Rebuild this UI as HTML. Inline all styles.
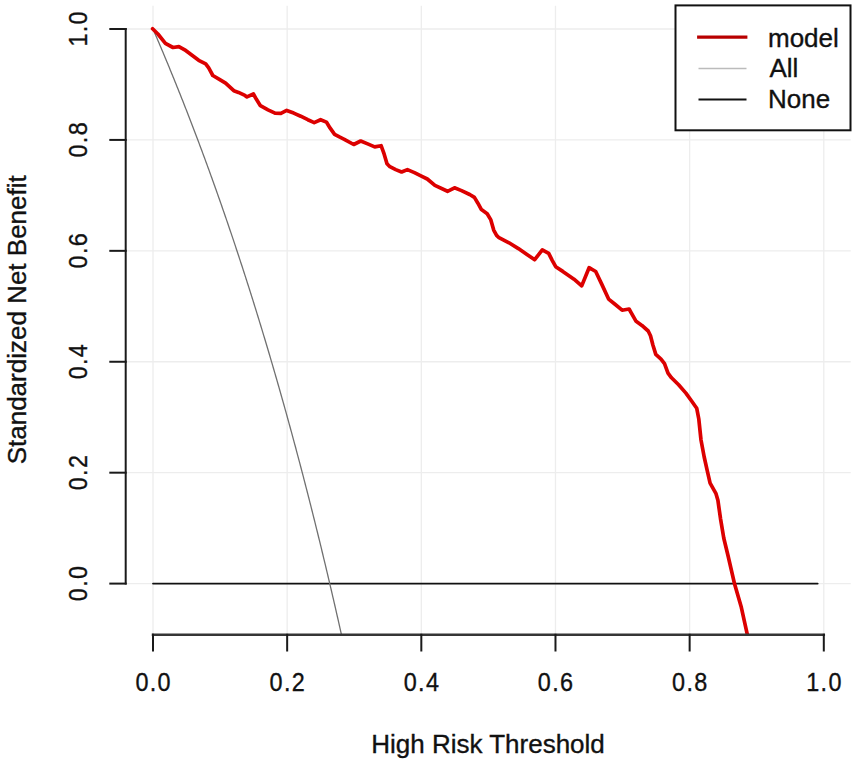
<!DOCTYPE html>
<html><head><meta charset="utf-8"><style>html,body{margin:0;padding:0;background:#fff;width:856px;height:763px;overflow:hidden}svg{display:block}text{font-family:"Liberation Sans",sans-serif}</style></head>
<body><svg width="856" height="763" viewBox="0 0 856 763"><g stroke="#ededed" stroke-width="1.3"><line x1="153.00" y1="5.7" x2="153.00" y2="634.5"/><line x1="125.6" y1="583.60" x2="850.7" y2="583.60"/><line x1="287.16" y1="5.7" x2="287.16" y2="634.5"/><line x1="125.6" y1="472.68" x2="850.7" y2="472.68"/><line x1="421.32" y1="5.7" x2="421.32" y2="634.5"/><line x1="125.6" y1="361.76" x2="850.7" y2="361.76"/><line x1="555.48" y1="5.7" x2="555.48" y2="634.5"/><line x1="125.6" y1="250.84" x2="850.7" y2="250.84"/><line x1="689.64" y1="5.7" x2="689.64" y2="634.5"/><line x1="125.6" y1="139.92" x2="850.7" y2="139.92"/><line x1="823.80" y1="5.7" x2="823.80" y2="634.5"/><line x1="125.6" y1="29.00" x2="850.7" y2="29.00"/></g>
<line x1="153.00" y1="583.60" x2="817.69" y2="583.60" stroke="#111" stroke-width="1.8" stroke-linecap="round"/>
<defs><clipPath id="pr"><rect x="125.6" y="5.7" width="725.1" height="628.9"/></clipPath></defs>
<polyline clip-path="url(#pr)" points="153.00,29.00 153.67,30.55 154.34,32.11 155.01,33.66 155.68,35.23 156.35,36.79 157.02,38.36 157.70,39.93 158.37,41.50 159.04,43.08 159.71,44.66 160.38,46.24 161.05,47.83 161.72,49.42 162.39,51.01 163.06,52.61 163.73,54.21 164.40,55.81 165.07,57.41 165.75,59.02 166.42,60.64 167.09,62.25 167.76,63.87 168.43,65.49 169.10,67.12 169.77,68.75 170.44,70.38 171.11,72.02 171.78,73.65 172.45,75.30 173.12,76.94 173.79,78.59 174.47,80.24 175.14,81.90 175.81,83.56 176.48,85.22 177.15,86.89 177.82,88.56 178.49,90.23 179.16,91.91 179.83,93.59 180.50,95.27 181.17,96.96 181.84,98.65 182.52,100.35 183.19,102.04 183.86,103.74 184.53,105.45 185.20,107.16 185.87,108.87 186.54,110.59 187.21,112.31 187.88,114.03 188.55,115.76 189.22,117.49 189.89,119.22 190.56,120.96 191.24,122.70 191.91,124.44 192.58,126.19 193.25,127.95 193.92,129.70 194.59,131.46 195.26,133.23 195.93,134.99 196.60,136.76 197.27,138.54 197.94,140.32 198.61,142.10 199.29,143.89 199.96,145.68 200.63,147.47 201.30,149.27 201.97,151.07 202.64,152.88 203.31,154.69 203.98,156.50 204.65,158.32 205.32,160.14 205.99,161.97 206.66,163.80 207.33,165.63 208.01,167.47 208.68,169.31 209.35,171.15 210.02,173.00 210.69,174.86 211.36,176.71 212.03,178.58 212.70,180.44 213.37,182.31 214.04,184.18 214.71,186.06 215.38,187.95 216.06,189.83 216.73,191.72 217.40,193.62 218.07,195.52 218.74,197.42 219.41,199.33 220.08,201.24 220.75,203.15 221.42,205.07 222.09,207.00 222.76,208.93 223.43,210.86 224.10,212.80 224.78,214.74 225.45,216.69 226.12,218.64 226.79,220.59 227.46,222.55 228.13,224.51 228.80,226.48 229.47,228.45 230.14,230.43 230.81,232.41 231.48,234.40 232.15,236.39 232.83,238.38 233.50,240.38 234.17,242.39 234.84,244.40 235.51,246.41 236.18,248.43 236.85,250.45 237.52,252.48 238.19,254.51 238.86,256.54 239.53,258.59 240.20,260.63 240.87,262.68 241.55,264.74 242.22,266.80 242.89,268.86 243.56,270.93 244.23,273.00 244.90,275.08 245.57,277.17 246.24,279.26 246.91,281.35 247.58,283.45 248.25,285.55 248.92,287.66 249.60,289.77 250.27,291.89 250.94,294.01 251.61,296.14 252.28,298.27 252.95,300.41 253.62,302.55 254.29,304.70 254.96,306.86 255.63,309.01 256.30,311.18 256.97,313.35 257.64,315.52 258.32,317.70 258.99,319.88 259.66,322.07 260.33,324.27 261.00,326.47 261.67,328.67 262.34,330.88 263.01,333.10 263.68,335.32 264.35,337.54 265.02,339.77 265.69,342.01 266.37,344.25 267.04,346.50 267.71,348.75 268.38,351.01 269.05,353.27 269.72,355.54 270.39,357.82 271.06,360.10 271.73,362.38 272.40,364.68 273.07,366.97 273.74,369.28 274.41,371.58 275.09,373.90 275.76,376.22 276.43,378.54 277.10,380.87 277.77,383.21 278.44,385.55 279.11,387.90 279.78,390.25 280.45,392.61 281.12,394.98 281.79,397.35 282.46,399.73 283.14,402.11 283.81,404.50 284.48,406.90 285.15,409.30 285.82,411.70 286.49,414.12 287.16,416.54 287.83,418.96 288.50,421.39 289.17,423.83 289.84,426.27 290.51,428.72 291.18,431.18 291.86,433.64 292.53,436.11 293.20,438.58 293.87,441.06 294.54,443.55 295.21,446.04 295.88,448.54 296.55,451.05 297.22,453.56 297.89,456.08 298.56,458.61 299.23,461.14 299.91,463.68 300.58,466.22 301.25,468.77 301.92,471.33 302.59,473.89 303.26,476.46 303.93,479.04 304.60,481.63 305.27,484.22 305.94,486.81 306.61,489.42 307.28,492.03 307.95,494.65 308.63,497.27 309.30,499.90 309.97,502.54 310.64,505.19 311.31,507.84 311.98,510.50 312.65,513.17 313.32,515.84 313.99,518.52 314.66,521.21 315.33,523.90 316.00,526.60 316.68,529.31 317.35,532.03 318.02,534.75 318.69,537.48 319.36,540.22 320.03,542.96 320.70,545.71 321.37,548.47 322.04,551.24 322.71,554.02 323.38,556.80 324.05,559.59 324.72,562.38 325.40,565.19 326.07,568.00 326.74,570.82 327.41,573.65 328.08,576.48 328.75,579.32 329.42,582.17 330.09,585.03 330.76,587.90 331.43,590.77 332.10,593.65 332.77,596.54 333.45,599.44 334.12,602.34 334.79,605.25 335.46,608.17 336.13,611.10 336.80,614.04 337.47,616.99 338.14,619.94 338.81,622.90 339.48,625.87 340.15,628.85 340.82,631.83 341.49,634.83 342.17,637.83 342.84,640.84" fill="none" stroke="#707070" stroke-width="1.3"/>
<polyline clip-path="url(#pr)" points="152.60,28.80 157.90,34.00 165.40,43.40 173.00,47.50 178.90,46.60 184.70,49.80 191.70,55.00 198.70,60.30 205.70,63.80 208.70,67.90 212.80,75.50 219.80,79.60 225.60,83.10 233.80,90.70 238.50,92.40 244.90,95.40 247.00,96.90 253.40,94.00 256.40,99.30 260.40,105.70 268.00,109.80 275.00,113.10 280.90,113.30 286.70,110.40 293.70,113.10 300.70,116.20 307.80,119.70 314.20,122.60 320.60,119.70 326.40,122.10 330.00,127.90 334.60,134.30 339.90,137.20 344.30,139.30 353.70,144.50 360.70,141.00 367.70,143.90 374.70,146.90 381.10,145.70 384.10,153.90 387.00,163.80 389.90,166.70 395.70,169.60 401.60,172.00 407.40,169.60 414.40,172.60 421.40,176.10 427.30,179.00 434.90,185.40 447.50,191.30 454.50,187.80 461.50,190.60 469.70,194.50 474.40,197.40 477.90,203.20 481.40,209.60 487.20,213.70 490.70,219.60 493.70,230.10 496.60,235.40 498.50,237.30 509.00,242.80 518.40,248.60 527.70,255.00 534.70,259.70 542.30,249.80 548.70,253.30 552.20,260.30 555.70,266.70 562.80,271.40 574.00,279.20 581.70,285.90 589.10,267.70 595.70,271.50 601.60,283.90 608.60,299.10 615.00,304.30 622.10,310.20 629.10,309.00 631.40,313.10 636.10,321.30 641.90,325.40 648.20,331.00 650.50,335.70 652.90,345.00 655.80,354.40 661.00,359.10 664.50,363.70 668.00,373.10 671.50,377.80 678.60,384.80 685.90,393.10 691.60,401.00 696.70,408.20 698.80,419.00 701.00,440.00 704.20,457.00 707.40,471.40 710.10,483.20 716.00,493.70 717.90,500.30 720.50,518.60 723.80,538.30 728.10,556.00 734.60,584.10 741.10,606.40 747.50,635.30" fill="none" stroke="#dc0000" stroke-width="3.7" stroke-linejoin="round" stroke-linecap="round"/>
<g stroke="#1a1a1a" stroke-width="2" stroke-linecap="square"><line x1="125.7" y1="583.60" x2="125.7" y2="29.00"/><line x1="110.3" y1="583.60" x2="125.7" y2="583.60"/><line x1="110.3" y1="472.68" x2="125.7" y2="472.68"/><line x1="110.3" y1="361.76" x2="125.7" y2="361.76"/><line x1="110.3" y1="250.84" x2="125.7" y2="250.84"/><line x1="110.3" y1="139.92" x2="125.7" y2="139.92"/><line x1="110.3" y1="29.00" x2="125.7" y2="29.00"/><line x1="153.00" y1="634.8" x2="823.80" y2="634.8" stroke="#353535" stroke-width="2.5"/><line x1="153.00" y1="634.8" x2="153.00" y2="650.5"/><line x1="287.16" y1="634.8" x2="287.16" y2="650.5"/><line x1="421.32" y1="634.8" x2="421.32" y2="650.5"/><line x1="555.48" y1="634.8" x2="555.48" y2="650.5"/><line x1="689.64" y1="634.8" x2="689.64" y2="650.5"/><line x1="823.80" y1="634.8" x2="823.80" y2="650.5"/></g>
<g font-size="26" fill="#111" stroke="#111" stroke-width="0.35"><text transform="translate(153.68,691.3) scale(0.9,1)" text-anchor="middle" letter-spacing="1.5">0.0</text><text transform="translate(87.4,582.93) rotate(-90) scale(0.9,1)" text-anchor="middle" letter-spacing="1.5">0.0</text><text transform="translate(287.83,691.3) scale(0.9,1)" text-anchor="middle" letter-spacing="1.5">0.2</text><text transform="translate(87.4,472.00) rotate(-90) scale(0.9,1)" text-anchor="middle" letter-spacing="1.5">0.2</text><text transform="translate(422.00,691.3) scale(0.9,1)" text-anchor="middle" letter-spacing="1.5">0.4</text><text transform="translate(87.4,361.08) rotate(-90) scale(0.9,1)" text-anchor="middle" letter-spacing="1.5">0.4</text><text transform="translate(556.15,691.3) scale(0.9,1)" text-anchor="middle" letter-spacing="1.5">0.6</text><text transform="translate(87.4,250.17) rotate(-90) scale(0.9,1)" text-anchor="middle" letter-spacing="1.5">0.6</text><text transform="translate(690.31,691.3) scale(0.9,1)" text-anchor="middle" letter-spacing="1.5">0.8</text><text transform="translate(87.4,139.24) rotate(-90) scale(0.9,1)" text-anchor="middle" letter-spacing="1.5">0.8</text><text transform="translate(824.47,691.3) scale(0.9,1)" text-anchor="middle" letter-spacing="1.5">1.0</text><text transform="translate(87.4,28.32) rotate(-90) scale(0.9,1)" text-anchor="middle" letter-spacing="1.5">1.0</text><text x="488" y="752.8" text-anchor="middle">High Risk Threshold</text><text transform="translate(25.7,319.8) rotate(-90)" text-anchor="middle">Standardized Net Benefit</text></g>
<rect x="675.5" y="5.4" width="175" height="124.9" fill="#fff" stroke="#111" stroke-width="2"/><line x1="697.1" y1="37.1" x2="747.4" y2="37.1" stroke="#b80000" stroke-width="3.4"/><line x1="698.5" y1="68.5" x2="746.5" y2="68.5" stroke="#bbb" stroke-width="1.5"/><line x1="698.5" y1="99.6" x2="746.5" y2="99.6" stroke="#111" stroke-width="2"/><g font-size="26" fill="#111" stroke="#111" stroke-width="0.35"><text x="768" y="46.5">model</text><text x="769.5" y="77.2">All</text><text x="768" y="107.5">None</text></g></svg></body></html>
